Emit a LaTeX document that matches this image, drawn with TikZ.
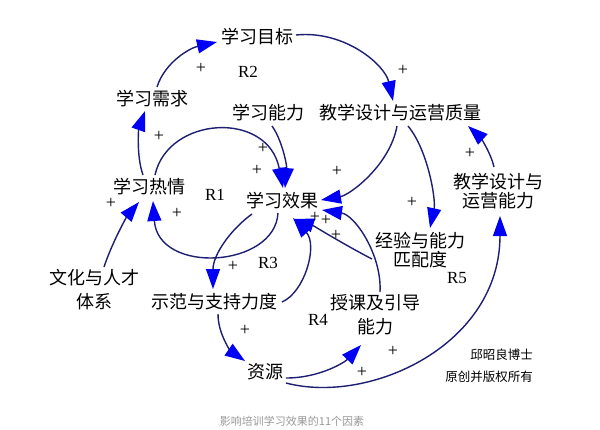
\documentclass[tikz,border=0pt]{standalone}
\usepackage{fontspec}
\setmainfont{Liberation Serif}
\newfontfamily\cjk{Noto Sans CJK SC}
\usetikzlibrary{arrows.meta,calc}
\definecolor{lnc}{RGB}{30,30,115}
\definecolor{tipc}{RGB}{0,0,245}
\begin{document}
\begin{tikzpicture}[x=1pt,y=-1pt,
  lab/.style={font=\cjk\fontsize{18}{19}\selectfont, inner sep=1pt, align=center, text=black},
  note/.style={font=\cjk\fontsize{12.5}{14}\selectfont, inner sep=0pt, text=black},
  rl/.style={font=\fontsize{17}{17}\selectfont, inner sep=0pt},
  pl/.style={font=\fontsize{18}{18}\selectfont, inner sep=0pt, text height=0.6em, text depth=0pt},
  link/.style={draw=lnc, line width=1.4pt, -{Triangle[length=20pt,width=14pt,color=tipc]}},
]
\clip (0,0) rectangle (600,429);
\fill[white] (0,0) rectangle (600,429);

% nodes
\node[lab] (goal) at (257,37) {学习目标};
\node[lab] (need) at (152,99) {学习需求};
\node[lab] (abil) at (268,113) {学习能力};
\node[lab] (qual) at (400,113) {教学设计与运营质量};
\node[lab] (pass) at (149,187) {学习热情};
\node[lab] (eff) at (282,201) {学习效果};
\node[lab] (opcap) at (498,191) {教学设计与\\运营能力};
\node[lab] (match) at (420,250) {经验与能力\\匹配度};
\node[lab] (cult) at (94,290) {文化与人才\\[5pt]体系};
\node[lab] (demo) at (214,302) {示范与支持力度};
\node[lab] (teach) at (375,315) {授课及引导\\[5pt]能力};
\node[lab] (res) at (265,372) {资源};

% loop labels
\node[rl] (r1) at (215,195) {R1};
\node[rl] (r2) at (248,72) {R2};
\node[rl] (r3) at (268,263) {R3};
\node[rl] (r4) at (318,320) {R4};
\node[rl] (r5) at (457,278) {R5};

% connectors
\draw[link] ($(need)+(5,-12)$) .. controls (165,62) and (190,48) .. ($(goal)+(-40,5)$);
\draw[link] ($(goal)+(39,-2)$) .. controls (345,30) and (385,65) .. ($(qual)+(-7,-12)$);
\draw[link] ($(pass)+(-6,-12)$) .. controls (136,155) and (139,128) .. ($(need)+(-7,12)$);
\draw[link] ($(pass)+(6,-12)$) .. controls (168,116) and (268,110) .. ($(eff)+(1,-13)$);
\draw[link] ($(abil)+(4,13)$) .. controls (282,140) and (287,165) .. ($(eff)+(3,-13)$);
\draw[link] ($(eff)+(-4,12)$) .. controls (275,268) and (158,275) .. ($(pass)+(4,14)$);
\draw[link] ($(cult)+(10,-23)$) .. controls (113,240) and (128,215) .. ($(pass)+(-10,15)$);
\draw[link] ($(eff)+(-30,13)$) .. controls (230,230) and (213,255) .. ($(demo)+(-1,-13)$);
\draw[link] ($(demo)+(4,12)$) .. controls (218,335) and (232,352) .. ($(res)+(-20,-11)$);
\draw[link] ($(demo)+(68,0)$) .. controls (305,292) and (318,245) .. ($(eff)+(11,17)$);
\draw[link] ($(match)+(-48,9)$) .. controls (345,245) and (312,225) .. ($(eff)+(12,18)$);
\draw[link] ($(teach)+(5,-23)$) .. controls (382,255) and (355,215) .. ($(eff)+(40,9)$);
\draw[link] ($(qual)+(-3,13)$) .. controls (390,165) and (350,195) .. ($(eff)+(39,-1)$);
\draw[link] ($(qual)+(8,13)$) .. controls (428,150) and (436,200) .. ($(match)+(10,-22)$);
\draw[link] ($(opcap)+(-4,-24)$) .. controls (490,150) and (478,135) .. ($(qual)+(68,13)$);
\draw[link] ($(res)+(21,6)$) .. controls (320,378) and (345,362) .. ($(teach)+(-14,30)$);
\draw[link] ($(res)+(21,11)$) .. controls (370,405) and (500,345) .. ($(opcap)+(2,25)$);

% polarity signs
\node[pl] (p1) at (201,70) {+};
\node[pl] (p2) at (403,72) {+};
\node[pl] (p3) at (159,138) {+};
\node[pl] (p4) at (263,150) {+};
\node[pl] (p5) at (257,172) {+};
\node[pl] (p6) at (337,173) {+};
\node[pl] (p7) at (470,155) {+};
\node[pl] (p8) at (111,205) {+};
\node[pl] (p9) at (177,215) {+};
\node[pl] (p10) at (315,219) {+};
\node[pl] (p11) at (326,222) {+};
\node[pl] (p12) at (336,237) {+};
\node[pl] (p13) at (412,204) {+};
\node[pl] (p14) at (233,268) {+};
\node[pl] (p15) at (245,332) {+};
\node[pl] (p16) at (393,353) {+};
\node[pl] (p17) at (362,374) {+};

% notes
\node[note, anchor=east] (n1) at (533,355) {邱昭良博士};
\node[note, anchor=east] (n2) at (533,377) {原创并版权所有};
\node[font=\cjk\fontsize{11}{11}\selectfont, text=black!40, inner sep=0pt] (cap) at (292,421) {影响培训学习效果的11个因素};
\end{tikzpicture}
\end{document}
